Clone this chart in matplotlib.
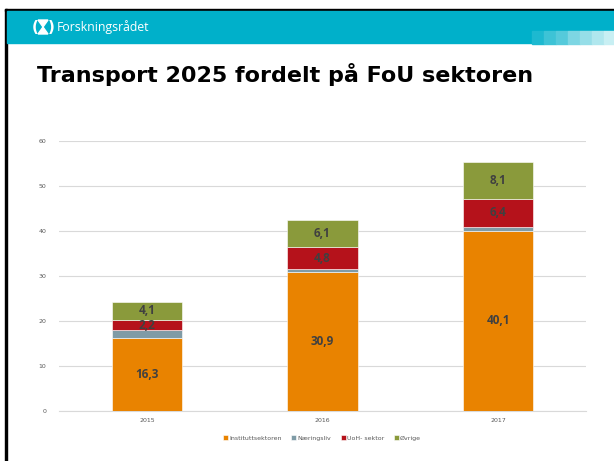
import matplotlib.pyplot as plt
from matplotlib.patches import Rectangle, Polygon
import numpy as np

years = ['2015', '2016', '2017']
series = ['Instituttsektoren', 'Næringsliv', 'UoH- sektor', 'Øvrige']
institutt = [16.3, 30.9, 40.1]
naering = [1.7, 0.7, 0.7]
uoh = [2.2, 4.8, 6.4]
ovrige = [4.1, 6.1, 8.1]
colors = ['#E98300', '#7F9BA6', '#B5121B', '#8A9A3B']
show_label = [True, False, True, True]

W, H = 614, 461
fig = plt.figure(figsize=(W / 100, H / 100), dpi=100)
fig.patch.set_facecolor('white')

# slide frame: black edge left/top, teal header band
fig.patches.append(Rectangle((5 / W, 0), 2 / W, 1 - 9 / H, transform=fig.transFigure,
                             color='black', zorder=0))
fig.patches.append(Rectangle((5 / W, 1 - 11 / H), 1, 2 / H, transform=fig.transFigure,
                             color='black', zorder=0))
fig.patches.append(Rectangle((7 / W, 1 - 43 / H), 1, 32 / H, transform=fig.transFigure,
                             color='#00B0CA', zorder=0))
fade = ['#1DB9D0', '#3DC3D6', '#55CADB', '#7DD6E3', '#96DEE8', '#B0E7EE', '#C8EFF3']
for i, c in enumerate(fade):
    fig.patches.append(Rectangle(((532 + i * 12) / W, 1 - 44 / H), 12 / W, 13 / H,
                                 transform=fig.transFigure, color=c, zorder=1))

# logo mark (rough)
cx, cy = 43, 27
tri1 = [(cx - 5, cy - 7), (cx + 5, cy - 7), (cx, cy)]
tri2 = [(cx - 5, cy + 7), (cx + 5, cy + 7), (cx, cy)]
for tri in (tri1, tri2):
    fig.patches.append(Polygon([(x / W, 1 - y / H) for x, y in tri], closed=True,
                               transform=fig.transFigure, color='white', zorder=2))
fig.text((cx - 8) / W, 1 - cy / H, '(', color='white', fontsize=11, ha='center',
         va='center', fontweight='bold')
fig.text((cx + 8) / W, 1 - cy / H, ')', color='white', fontsize=11, ha='center',
         va='center', fontweight='bold')
fig.text(57 / W, 1 - 27 / H, 'Forskningsrådet', color='white', fontsize=8.8,
         ha='left', va='center', family='Open Sans')

fig.text(37 / W, 1 - 75 / H, 'Transport 2025 fordelt på FoU sektoren',
         fontsize=16, fontweight='bold', ha='left', va='center',
         family='DejaVu Sans', color='black')

ax = fig.add_axes([59 / W, 1 - 411 / H, 527 / W, 270 / H])
x = np.arange(len(years))
bottom = np.zeros(len(years))
data = [institutt, naering, uoh, ovrige]
for vals, name, col, lab in zip(data, series, colors, show_label):
    bars = ax.bar(x, vals, width=0.4, bottom=bottom, color=col, label=name,
                  edgecolor='white', linewidth=0.4, zorder=3)
    if lab:
        for b, v in zip(bars, vals):
            ax.text(b.get_x() + b.get_width() / 2, b.get_y() + v / 2,
                    f'{v:.1f}'.replace('.', ','), ha='center', va='center',
                    fontsize=8.5, fontweight='bold', color='#404040',
                    family='Open Sans', zorder=4)
    bottom += np.array(vals)

ax.set_xlim(-0.5, 2.5)
ax.set_ylim(0, 60)
ax.set_yticks(range(0, 61, 10))
ax.set_xticks(x)
ax.set_xticklabels(years)
ax.grid(axis='y', color='#D9D9D9', linewidth=0.8, zorder=0)
for s in ['top', 'right', 'left']:
    ax.spines[s].set_visible(False)
ax.spines['bottom'].set_color('#D9D9D9')
ax.tick_params(axis='both', length=0, labelsize=4.5, labelcolor='#595959')
ax.tick_params(axis='y', pad=9)
ax.tick_params(axis='x', pad=5)

fig.legend(loc='center', bbox_to_anchor=(322 / W, 1 - 438 / H), ncol=4,
           frameon=False, fontsize=4.5, labelcolor='#595959', handlelength=0.8,
           handleheight=0.8, handletextpad=0.2, columnspacing=1.5)

fig.savefig('out.png', dpi=100)
